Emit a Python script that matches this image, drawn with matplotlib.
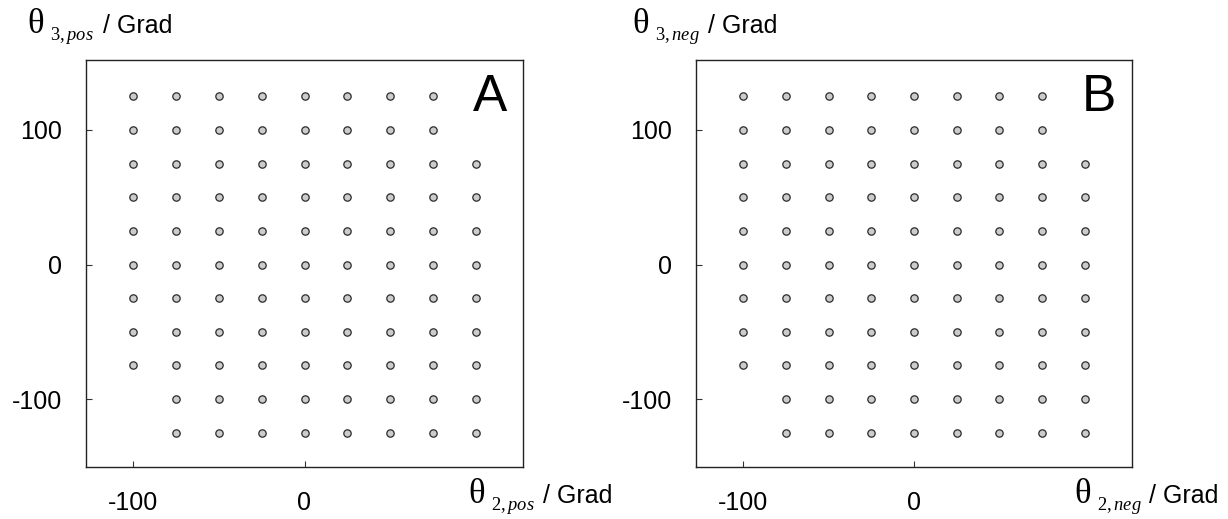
import matplotlib
matplotlib.use("Agg")
import matplotlib.pyplot as plt

plt.rcParams["font.family"] = ["Liberation Sans", "DejaVu Sans"]
plt.rcParams["axes.unicode_minus"] = False
plt.rcParams["mathtext.fontset"] = "custom"
plt.rcParams["mathtext.rm"] = "Liberation Serif"
plt.rcParams["mathtext.it"] = "Liberation Serif:italic"

# Grid of sampled joint angles (degrees): for each theta3 level, the theta2 values used
theta3_levels = [125, 100, 75, 50, 25, 0, -25, -50, -75, -100, -125]
theta2_per_level = [
    [-100, -75, -50, -25, 0, 25, 50, 75],
    [-100, -75, -50, -25, 0, 25, 50, 75],
    [-100, -75, -50, -25, 0, 25, 50, 75, 100],
    [-100, -75, -50, -25, 0, 25, 50, 75, 100],
    [-100, -75, -50, -25, 0, 25, 50, 75, 100],
    [-100, -75, -50, -25, 0, 25, 50, 75, 100],
    [-100, -75, -50, -25, 0, 25, 50, 75, 100],
    [-100, -75, -50, -25, 0, 25, 50, 75, 100],
    [-100, -75, -50, -25, 0, 25, 50, 75, 100],
    [-75, -50, -25, 0, 25, 50, 75, 100],
    [-75, -50, -25, 0, 25, 50, 75, 100],
]

xticks = [-100, 0]
yticks = [-100, 0, 100]
panel_letters = ["A", "B"]
subscripts = ["pos", "neg"]

W, H = 1228, 519
fig = plt.figure(figsize=(W / 100, H / 100), dpi=100)

axes_px = [(86, 523), (696, 1132)]
top_px, bottom_px = 60, 467


def fig_xy(px, py):
    return px / W, 1 - py / H


for i, (x0, x1) in enumerate(axes_px):
    ax = fig.add_axes([x0 / W, 1 - bottom_px / H, (x1 - x0) / W, (bottom_px - top_px) / H])
    for t3, t2s in zip(theta3_levels, theta2_per_level):
        ax.plot(t2s, [t3] * len(t2s), linestyle="none", marker="o",
                markersize=5.3, markerfacecolor="#cccccc",
                markeredgecolor="#2a2a2a", markeredgewidth=0.9)
    ax.set_xlim(-127.5, 127.5)
    ax.set_ylim(-150.5, 152)
    ax.set_xticks(xticks)
    ax.set_yticks(yticks)
    ax.tick_params(direction="in", length=4, width=0.8, color="#333333",
                   labelsize=18, labelcolor="black")
    ax.tick_params(axis="x", pad=17)
    ax.tick_params(axis="y", pad=17)
    for s in ax.spines.values():
        s.set_linewidth(1.0)
        s.set_color("#222222")
    ax.text(0.963, 0.875, panel_letters[i], transform=ax.transAxes,
            ha="right", va="baseline", fontsize=37, color="black")


def axis_title(theta_x, baseline, index, name, grad_right):
    # serif theta, small subscript (index upright, name italic), sans "/ Grad"
    fig.text(*fig_xy(theta_x, baseline), "\u03b8", fontsize=25,
             family="Liberation Serif", ha="left", va="baseline")
    fig.text(*fig_xy(theta_x + 23, baseline + 7),
             r"$\mathrm{%s,}\mathit{%s}$" % (index, name),
             fontsize=13.3, ha="left", va="baseline")
    fig.text(*fig_xy(grad_right, baseline), "/ Grad", fontsize=18,
             ha="right", va="baseline")


axis_title(27, 33, "3", subscripts[0], 172)
axis_title(468, 503, "2", subscripts[0], 612)
axis_title(632, 33, "3", subscripts[1], 777)
axis_title(1074, 503, "2", subscripts[1], 1218)

fig.savefig("out.png", dpi=100)
